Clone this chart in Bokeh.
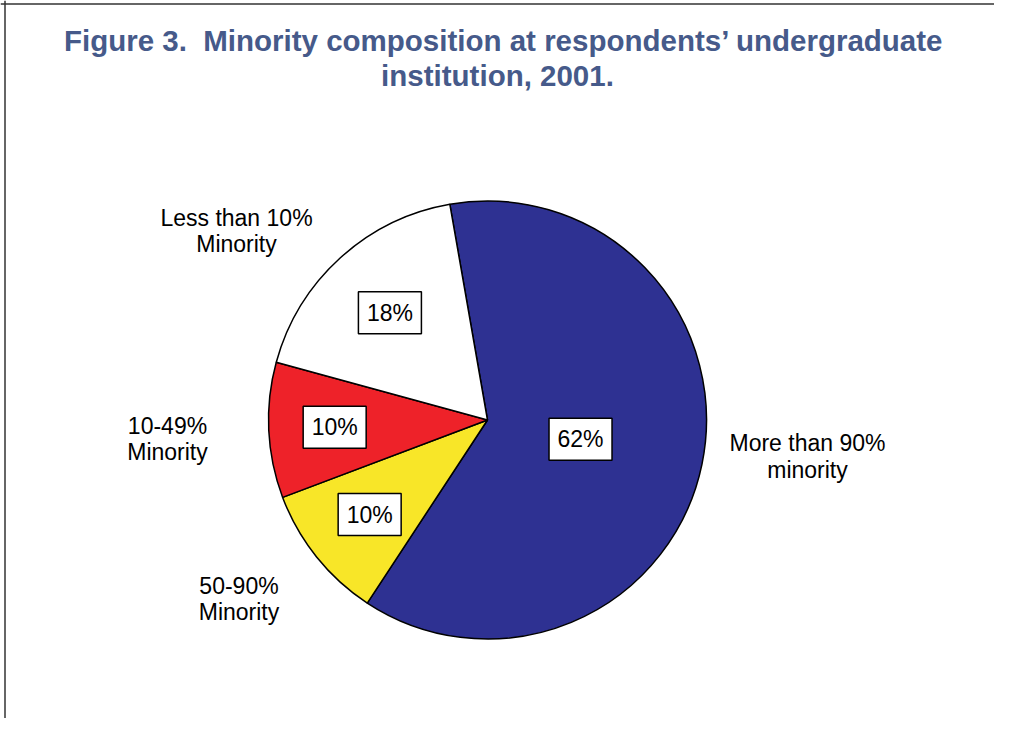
import math
from bokeh.plotting import figure
from bokeh.models import Range1d, ColumnDataSource, Span
from bokeh.core.properties import value
from bokeh.embed import file_html
from bokeh.resources import INLINE

# ---- data ----
title_lines = ["Figure 3.\u00a0 Minority composition at respondents\u2019 undergraduate",
               "institution, 2001."]
categories = ["More than 90%\nminority", "50-90%\nMinority", "10-49%\nMinority", "Less than 10%\nMinority"]
values = [62, 10, 10, 18]
pct_labels = ["62%", "10%", "10%", "18%"]

# ---- styles / layout ----
colors = ["#2e3192", "#f8e628", "#ee2229", "#ffffff"]
title_color = "#465a8a"
W, H = 994, 718
FS = 23          # label font size (px)
TFS = 29.5       # title font size (px)
SHIFT = 0.35     # empirical baseline correction, in em


def px(x):
    return x


def py(y, fs=0.0):
    return H - y + SHIFT * fs


CX, CY, R = px(487), py(419.5), 219
START = 99.9            # degrees, first slice starts here and runs clockwise
label_r = [95, 151, 153, 145]
outer_pos = [(807, 451), (238.5, 593.5), (167, 433.5), (236, 225.5)]
LINE = 26.5
FONT = value("Liberation Sans")

p = figure(width=W, height=H, x_range=Range1d(0, W), y_range=Range1d(0, H),
           output_backend="svg", toolbar_location=None, min_border=0)
p.axis.visible = False
p.grid.visible = False
p.outline_line_color = None
p.background_fill_color = "white"
p.border_fill_color = "white"

total = float(sum(values))
starts, ends, mids = [], [], []
cum = 0.0
for v in values:
    a0 = START - 360.0 * cum / total
    cum += v
    a1 = START - 360.0 * cum / total
    starts.append(math.radians(a0))
    ends.append(math.radians(a1))
    mids.append(math.radians((a0 + a1) / 2))

src = ColumnDataSource(dict(start=starts, end=ends, color=colors))
p.wedge(x=CX, y=CY, radius=R, start_angle="start", end_angle="end", direction="clock",
        fill_color="color", line_color="black", line_width=1.5, source=src)

# percentage boxes
bx = [CX + r * math.cos(m) for r, m in zip(label_r, mids)]
by = [CY + r * math.sin(m) for r, m in zip(label_r, mids)]
bsrc = ColumnDataSource(dict(x=bx, y=by, yb=[y - 8.2 + SHIFT * FS for y in by], t=pct_labels))
p.rect(x="x", y="y", width=63, height=42, fill_color="white", line_color="black",
       line_width=1.5, source=bsrc)
p.text(x="x", y="yb", text="t", text_align="center", text_baseline="alphabetic",
       text_font=FONT, text_font_size=value(f"{FS}px"), text_color="black", source=bsrc)

# outer category labels
lx, ly, lt = [], [], []
for cat, (x, y) in zip(categories, outer_pos):
    for i, line in enumerate(cat.split("\n")):
        lx.append(px(x))
        ly.append(py(y + i * LINE, FS))
        lt.append(line)
p.text(x=lx, y=ly, text=lt, text_align="center", text_baseline="alphabetic",
       text_font=FONT, text_font_size=value(f"{FS}px"), text_color="black")

# title
p.text(x=[px(503.5), px(497)], y=[py(50.5, TFS), py(85, TFS)], text=title_lines,
       text_align="center", text_baseline="alphabetic", text_font=FONT,
       text_font_style="bold", text_font_size=value(f"{TFS}px"), text_color=title_color)

# frame edges
p.add_layout(Span(location=px(4.5), dimension="height", line_color="#333333", line_width=1.5))
p.add_layout(Span(location=py(3.5), dimension="width", line_color="#333333", line_width=1.5))

open("out.html", "w").write(file_html(p, INLINE))
